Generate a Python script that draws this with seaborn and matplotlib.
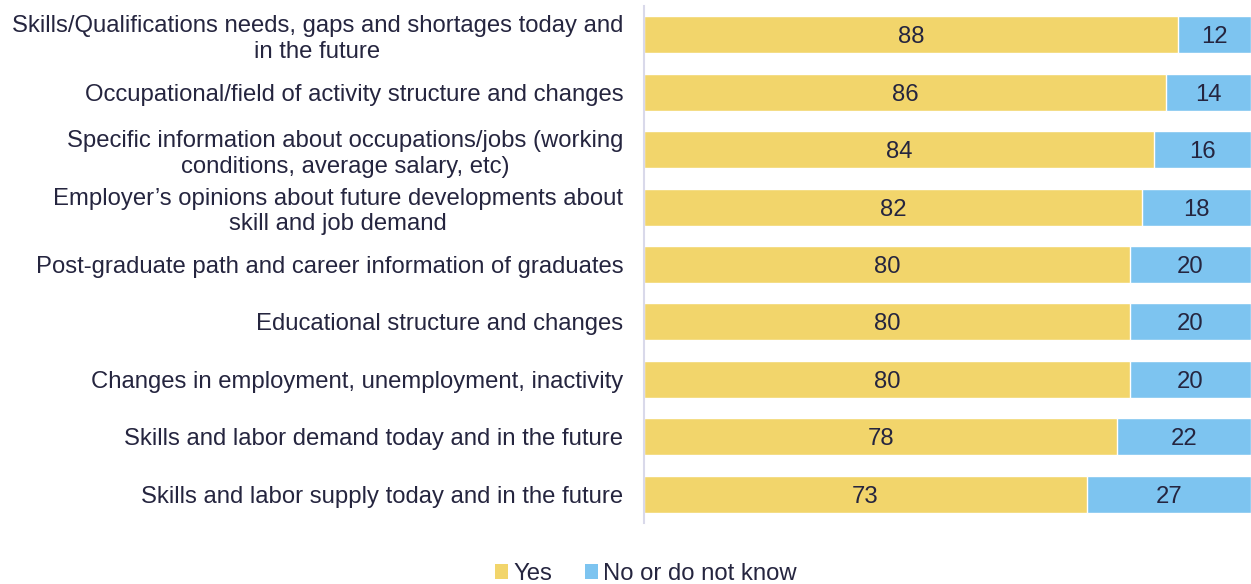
import matplotlib
matplotlib.use("Agg")
import matplotlib.pyplot as plt
import seaborn as sns
import pandas as pd
from matplotlib.patches import Patch

categories = [
    "Skills/Qualifications needs, gaps and shortages today and\nin the future",
    "Occupational/field of activity structure and changes",
    "Specific information about occupations/jobs (working\nconditions, average salary, etc)",
    "Employer\u2019s opinions about future developments about\nskill and job demand",
    "Post-graduate path and career information of graduates",
    "Educational structure and changes",
    "Changes in employment, unemployment, inactivity",
    "Skills and labor demand today and in the future",
    "Skills and labor supply today and in the future",
]
yes_values = [88, 86, 84, 82, 80, 80, 80, 78, 73]
no_values = [12, 14, 16, 18, 20, 20, 20, 22, 27]
series_names = ["Yes", "No or do not know"]

YELLOW = "#F2D56B"
BLUE = "#7DC4F0"
TEXT = "#25253F"
FS = 17.2

df = pd.DataFrame({"category": categories, "yes": yes_values, "no": no_values})
df["total"] = df["yes"] + df["no"]

sns.set_theme(style="white")
plt.rcParams["font.family"] = ["Liberation Sans", "DejaVu Sans"]

fig = plt.figure(figsize=(12.51, 5.84), dpi=100)
ax = fig.add_axes([644 / 1251, 1 - 522.7 / 584, 1 - 644 / 1251, (522.7 - 6.3) / 584])

# Full-length bar in blue, yellow "Yes" segment drawn over it
sns.barplot(data=df, x="total", y="category", order=categories, color=BLUE,
            width=0.645, saturation=1, ax=ax)
sns.barplot(data=df, x="yes", y="category", order=categories, color=YELLOW,
            width=0.645, saturation=1, ax=ax)

for i, (y, n) in enumerate(zip(yes_values, no_values)):
    ax.text(y / 2, i, f"{y}", ha="center", va="center_baseline", fontsize=FS, color=TEXT)
    ax.text(y + n / 2, i, f"{n}", ha="center", va="center_baseline", fontsize=FS, color=TEXT)

ax.set_xlim(0, 100)
ax.set_ylim(len(categories) - 0.5, -0.5)
ax.set_xlabel("")
ax.set_ylabel("")
ax.xaxis.set_visible(False)
ax.tick_params(axis="y", length=0, pad=15, labelsize=FS, labelcolor=TEXT)
for lbl in ax.get_yticklabels():
    lbl.set_horizontalalignment("right")
    lbl.set_multialignment("center")
for side in ["top", "right", "bottom"]:
    ax.spines[side].set_visible(False)
ax.spines["left"].set_color("#D9D9EA")
ax.spines["left"].set_linewidth(1.5)

handles = [Patch(facecolor=YELLOW, edgecolor="none"), Patch(facecolor=BLUE, edgecolor="none")]
fig.legend(handles, series_names, loc="center", bbox_to_anchor=(646 / 1251, 1 - 574 / 584),
           ncol=2, frameon=False, fontsize=FS, labelcolor=TEXT,
           handlelength=0.55, handleheight=0.55, handletextpad=0.2, columnspacing=1.4)

fig.savefig("out.png", dpi=100)
